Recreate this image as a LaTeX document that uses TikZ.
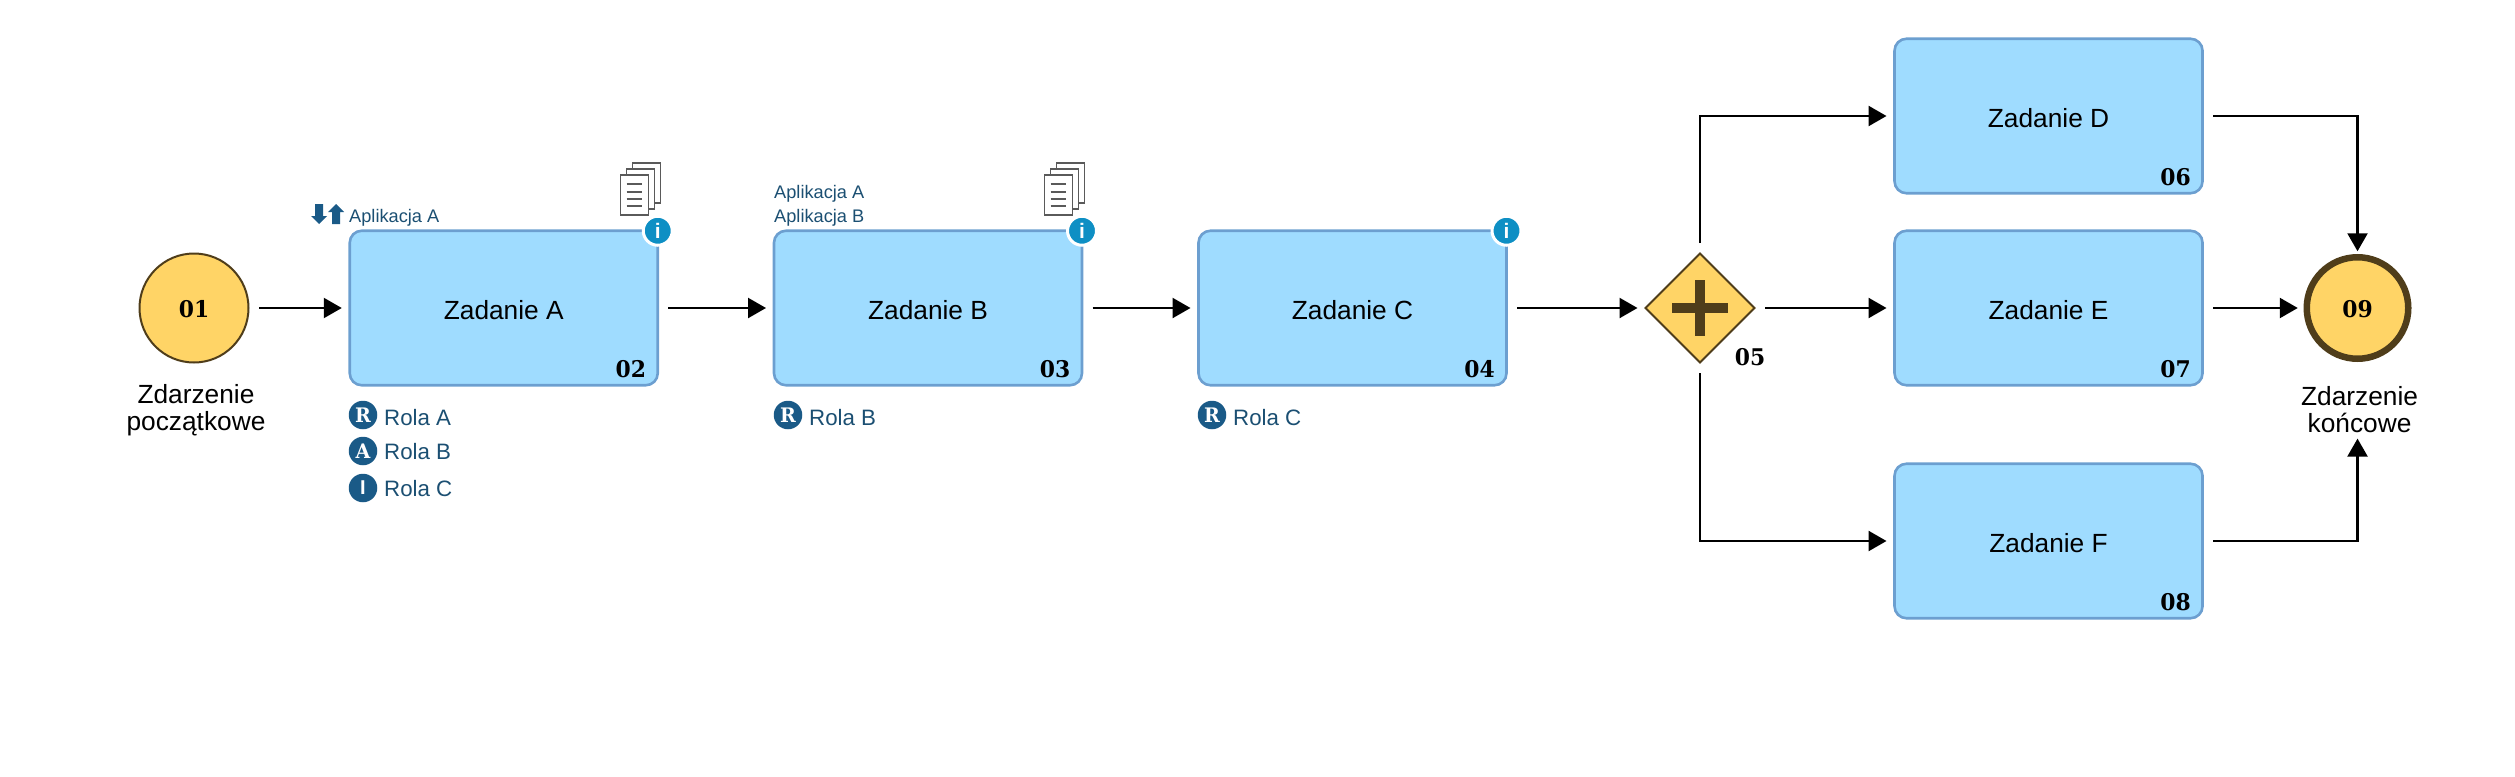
\documentclass[tikz,border=0pt]{standalone}
\usepackage{fontspec}
\setmainfont{Liberation Sans}
\newfontfamily\numfont[FakeStretch=0.95]{DejaVu Serif}
\usepackage{tikz}
\usetikzlibrary{arrows.meta,positioning,calc,shapes.geometric}

\definecolor{taskfill}{HTML}{9FDCFF}
\definecolor{taskline}{HTML}{6C9FD0}
\definecolor{eventfill}{HTML}{FFD466}
\definecolor{eventline}{HTML}{4F3D1A}
\definecolor{rolecol}{HTML}{1A5A87}
\definecolor{textcol}{HTML}{1B4F72}
\definecolor{infocol}{HTML}{0E8FC4}
\definecolor{doccol}{HTML}{5A5A5A}

\tikzset{
  docstack/.pic={
    \foreach \d in {12,6,0} {
      \draw[doccol, line width=1.8pt, fill=white] (\d,-\d) rectangle (\d+28,-\d+40);
    }
    \foreach \l in {9,17,24,31} {
      \draw[doccol, line width=1.8pt] (6,\l) -- (21,\l);
    }
  },
  appmark/.pic={
    \fill[rolecol] (-12,0) -- (-4,0) -- (-4,12) -- (0,12) -- (-8,20) -- (-16,12) -- (-12,12) -- cycle;
    \fill[rolecol] (5,20) -- (13,20) -- (13,8) -- (17,8) -- (9,0) -- (1,8) -- (5,8) -- cycle;
  }
}

\begin{document}
\begin{tikzpicture}[
  x=1pt, y=-1pt,
  taskbox/.style={draw=taskline, fill=taskfill, line width=2.6pt, rounded corners=12pt, outer sep=0pt, minimum width=308pt, minimum height=154.5pt, text height=22.5pt, font=\fontsize{26.3}{28}\selectfont},
  eventbox/.style={circle, draw=eventline, fill=eventfill, outer sep=0pt, inner sep=0pt, text height=18.5pt, font=\fontsize{23}{26}\selectfont\numfont\bfseries},
  gatebox/.style={diamond, aspect=1, draw=eventline, fill=eventfill, line width=2pt, outer sep=0pt, inner sep=0pt, minimum width=109pt, minimum height=109pt},
  numtext/.style={font=\fontsize{23}{26}\selectfont\numfont\bfseries, inner sep=0pt},
  eventtext/.style={font=\fontsize{26.3}{26.5}\selectfont, align=center, inner sep=0pt},
  rolebadge/.style={circle, fill=rolecol, text=white, minimum size=28.5pt, inner sep=0pt, font=\fontsize{20}{22}\selectfont\numfont\bfseries},
  roletext/.style={font=\fontsize{22.3}{24}\selectfont, text=textcol, inner sep=0pt},
  apptext/.style={font=\fontsize{18.2}{23}\selectfont, text=textcol, inner sep=0pt, align=left},
  infobadge/.style={circle, fill=infocol, draw=white, line width=3pt, text=white, minimum size=29pt, inner sep=0pt, font=\fontsize{21}{21}\selectfont\bfseries},
  flow/.style={line width=2.4pt, -{Triangle[length=18pt,width=20pt]}, shorten <=10.5pt, shorten >=8pt}
]
\useasboundingbox (0,0) rectangle (2515,776);

% Tasks
\foreach \n/\x/\y/\t/\i in {taskA/503.75/308/A/02, taskB/928/308/B/03, taskC/1352.5/308/C/04, taskD/2048.5/116/D/06, taskE/2048.5/308/E/07, taskF/2048.5/541/F/08} {
  \node[taskbox] (\n) at (\x,\y) {Zadanie \t};
  \node[numtext] (\n num) at ($(\n.south east)+(-27,-16.5)$) {\i};
}

% Events
\node[eventbox, line width=2pt, minimum size=109pt] (start) at (194,308) {01};
\node[eventbox, line width=6.5pt, minimum size=101.5pt] (end) at (2357.5,308) {09};
\node[eventtext] (startlbl) at (196,410) {Zdarzenie\\początkowe};
\node[eventtext] (endlbl) at (2359.5,409.5) {Zdarzenie\\końcowe};

% Gateway
\node[gatebox] (gate) at (1700,308) {};
\fill[eventline] (1672,303) rectangle (1728,313);
\fill[eventline] (1695,280) rectangle (1705,336);
\node[numtext] (gatenum) at (1750,357) {05};

% Flow arrows
\draw[flow] (start) -- (taskA);
\draw[flow] (taskA) -- (taskB);
\draw[flow] (taskB) -- (taskC);
\draw[flow] (taskC) -- (gate);
\draw[flow] (gate.north) |- (taskD);
\draw[flow] (gate) -- (taskE);
\draw[flow] (gate.south) |- (taskF);
\draw[flow, shorten >=6pt] (taskD) -| (end.north);
\draw[flow, shorten >=9pt] (taskE) -- (end);
\draw[flow, shorten >=6pt] (taskF) -| (end.south |- endlbl.south);

% Documents
\path (620.5,175) pic {docstack};
\path (1044.5,175) pic {docstack};

% Info badges
\foreach \n in {taskA,taskB,taskC} {
  \node[infobadge] (\n info) at (\n.north east) {i};
}

% Applications
\path (327,204) pic {appmark};
\node[apptext, anchor=west] (appA) at (349,217.5) {Aplikacja A};
\node[apptext, anchor=west] (appBa) at (774,194) {Aplikacja A};
\node[apptext, anchor=west] (appBb) at (774,217.5) {Aplikacja B};

% Roles
\foreach \n/\x/\y/\l/\t/\s in {roleAr/363/415/R/Rola A/-2.5, roleAa/363/451/A/Rola B/-1, roleAi/363/488/\rmfamily I/Rola C/-1, roleBr/788/415/R/Rola B/-2.5, roleCr/1212/415/R/Rola C/-2.5} {
  \node[rolebadge] (\n) at (\x,\y) {\l};
  \node[roletext, right=6.5pt of \n, yshift=\s pt] (\n txt) {\t};
}

\end{tikzpicture}
\end{document}
